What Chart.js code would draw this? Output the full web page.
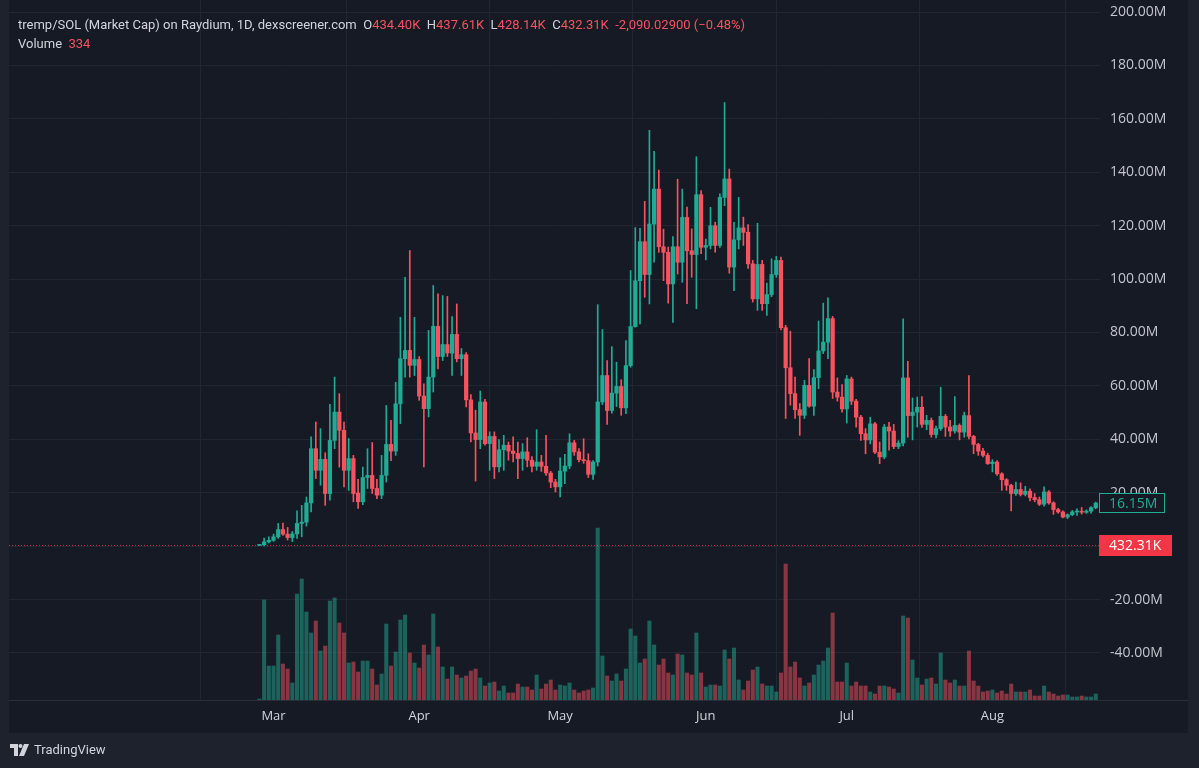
<!DOCTYPE html>
<html>
<head>
<meta charset="utf-8">
<title>tremp/SOL (Market Cap) on Raydium</title>
<script src="https://cdn.jsdelivr.net/npm/chart.js@4.4.1/dist/chart.umd.min.js"></script>
<style>
  html, body { margin: 0; padding: 0; background: #1e222d; }
  #wrap { position: relative; width: 1199px; height: 768px; overflow: hidden; font-family: Roboto, "Open Sans", sans-serif; }
  #chart { position: absolute; left: 0; top: 0; }
  .legend { position: absolute; left: 18px; color: #d1d4dc; font-size: 13px; line-height: 18px; white-space: pre; }
  .legend .v { color: #f7525f; }
  #line1 { top: 16px; }
  #line2 { top: 35px; }
  #brand { position: absolute; left: 10px; top: 741px; color: #d1d4dc; font-size: 13px; line-height: 18px; display: flex; align-items: center; gap: 4px; }
</style>
</head>
<body>
<div id="wrap">
  <canvas id="chart" width="1199" height="768"></canvas>
  <div class="legend" id="line1"></div>
  <div class="legend" id="line2"></div>
  <div id="brand">
    <svg width="20" height="12" viewBox="0 0 20 12">
      <path d="M0 0h8v12h-4v-8h-4z" fill="#d1d4dc"/>
      <circle cx="10.5" cy="2" r="2" fill="#d1d4dc"/>
      <path d="M14 0h5l-5 12h-5z" fill="#d1d4dc"/>
    </svg>
    <span>TradingView</span>
  </div>
</div>

<script>
// --- tremp/SOL market cap, daily candles (values in millions USD) ---

// Day numbers are counted from Mar 1 (Feb 27 = -3)
const firstDay = -3;

// Month ticks on the time axis
const monthLabels = ['Mar', 'Apr', 'May', 'Jun', 'Jul', 'Aug'];
const monthStartDays = [0, 31, 61, 92, 122, 153];

// Price scale ticks (M)
const priceTicks = [-40, -20, 0, 20, 40, 60, 80, 100, 120, 140, 160, 180, 200];

const opens = [
  0.3, 0.5, 1.6,
  2.2, 3.5, 6.2, 4.5, 3.2, 4.6, 8.5, 9.0, 16.2, 36.5, 28.4, 32.5, 19.7, 39.6, 50.2, 43.4, 28.4, 32.8, 19.9, 16.6, 25.7, 26.5, 21.6, 19.1, 26.5, 38.1, 35.6, 53.3, 70.2, 73.3, 67.7,
  69.9, 56.2, 51.5, 63.3, 82.3, 71.0, 75.5, 72.3, 79.3, 70.2, 71.7, 54.8, 42.4, 39.9, 54.0, 38.4, 41.1, 29.7, 36.1, 37.8, 35.6, 34.7, 32.8, 35.3, 32.2, 29.9, 31.5, 29.9, 27.4, 24.0,
  22.2, 28.1, 30.0, 38.7, 35.3, 32.4, 32.0, 26.9, 31.5, 54.0, 63.9, 50.8, 57.3, 59.8, 51.8, 67.6, 82.2, 99.4, 114.0, 101.7, 120.6, 133.7, 112.1, 110.0, 98.2, 112.1, 106.3, 123.1, 110.6, 109.2, 131.6,
  111.9, 112.6, 120.0, 112.6, 130.6, 137.5, 104.5, 114.7, 119.2, 117.5, 105.7, 92.6, 105.5, 90.8, 94.2, 101.7, 107.0, 81.8, 66.8, 57.1, 51.1, 49.0, 60.2, 52.4, 63.1, 73.1, 76.4, 85.2, 57.7, 55.8,
  51.4, 62.6, 54.3, 48.3, 42.1, 39.8, 45.8, 35.2, 33.4, 44.6, 43.1, 37.3, 38.6, 63.0, 48.9, 50.2, 52.0, 45.6, 47.1, 41.8, 44.0, 48.6, 44.6, 43.1, 45.2, 42.7, 48.9, 41.1, 38.1, 35.6, 34.0,
  30.9, 31.5, 27.1, 24.9, 22.8, 19.7, 21.2, 19.4, 20.6, 18.2, 17.4, 15.7, 20.3, 16.2, 13.7, 12.8, 10.9, 11.8, 12.8, 13.1, 12.7, 13.1, 14.4
];
const highs = [
  0.6, 3.0, 3.5,
  4.5, 8.5, 8.6, 7.0, 5.5, 13.2, 15.3, 18.4, 40.9, 46.5, 44.0, 35.0, 53.1, 63.3, 57.1, 46.5, 40.3, 34.0, 25.0, 29.6, 36.5, 38.8, 25.0, 34.0, 52.7, 47.1, 61.4, 85.7, 100.7, 110.7, 85.7,
  71.0, 60.8, 80.8, 97.6, 94.5, 93.8, 93.5, 86.0, 90.7, 74.0, 72.5, 56.8, 50.9, 58.1, 55.0, 42.8, 42.8, 39.9, 41.5, 39.0, 40.9, 39.0, 38.4, 40.6, 33.5, 43.6, 34.0, 41.5, 28.0, 25.0,
  33.1, 34.4, 42.1, 39.6, 36.5, 40.2, 34.6, 32.0, 90.4, 81.1, 69.5, 74.7, 68.9, 62.3, 77.0, 103.2, 119.3, 119.0, 129.1, 155.7, 147.8, 140.8, 118.7, 112.0, 115.9, 137.4, 133.7, 127.0, 118.8, 145.8, 133.1,
  115.0, 126.9, 121.3, 131.9, 166.1, 141.2, 121.3, 130.6, 123.2, 120.4, 107.0, 120.9, 107.0, 98.5, 107.6, 108.5, 108.2, 82.7, 80.5, 63.3, 53.4, 62.1, 70.2, 66.1, 84.3, 91.0, 93.0, 86.0, 63.0, 60.5,
  63.9, 63.3, 55.0, 49.0, 44.0, 48.3, 46.4, 39.0, 45.6, 46.4, 45.6, 39.5, 85.1, 69.2, 55.5, 55.8, 56.0, 49.0, 48.0, 45.0, 59.5, 49.3, 47.1, 56.0, 45.8, 50.2, 63.9, 41.5, 38.5, 36.6, 34.8,
  32.4, 32.0, 27.5, 25.3, 23.2, 24.0, 23.7, 22.4, 21.5, 19.7, 18.4, 22.2, 20.8, 16.6, 14.2, 13.2, 12.1, 13.4, 14.0, 14.5, 13.6, 14.8, 16.5
];
const lows = [
  0.2, 0.1, 1.2,
  1.8, 2.9, 4.0, 2.3, 1.7, 2.9, 3.5, 7.5, 12.8, 25.3, 22.8, 15.3, 17.2, 36.5, 29.6, 22.2, 20.9, 16.6, 14.1, 15.5, 21.6, 19.7, 17.8, 17.8, 24.0, 32.0, 34.0, 45.9, 63.3, 63.3, 63.9,
  54.6, 29.7, 48.4, 57.7, 66.4, 69.5, 71.0, 63.9, 69.0, 63.9, 52.1, 39.0, 24.4, 36.5, 37.8, 28.4, 25.3, 27.8, 28.4, 32.2, 31.5, 25.3, 28.4, 29.7, 27.8, 28.4, 28.0, 26.5, 21.9, 20.3,
  18.4, 23.4, 29.0, 34.0, 31.5, 31.0, 25.7, 25.0, 30.0, 53.0, 45.6, 49.8, 52.3, 49.0, 49.6, 67.0, 82.0, 83.2, 93.2, 90.7, 106.3, 110.0, 99.4, 91.0, 83.8, 101.9, 98.8, 90.8, 100.7, 88.9, 109.5,
  107.2, 111.3, 110.1, 111.9, 127.5, 102.2, 95.7, 111.3, 112.6, 104.0, 91.4, 88.3, 88.3, 86.4, 93.4, 100.7, 81.0, 47.8, 52.8, 47.8, 41.5, 47.8, 52.0, 49.0, 59.0, 72.1, 70.2, 55.3, 54.3, 50.2,
  46.1, 53.0, 44.6, 39.6, 34.6, 38.3, 34.6, 30.9, 32.7, 35.9, 36.5, 36.5, 37.5, 40.8, 39.8, 44.6, 44.5, 43.6, 40.8, 40.5, 43.3, 41.1, 41.1, 42.3, 39.8, 40.8, 40.2, 34.6, 34.0, 33.4, 30.6,
  27.8, 26.5, 20.9, 20.9, 13.2, 19.0, 18.8, 18.8, 16.9, 16.6, 15.2, 15.0, 15.7, 11.9, 12.3, 10.6, 10.3, 11.4, 11.5, 12.0, 12.3, 12.4, 14.0
];
const closes = [
  0.5, 1.6, 2.2,
  3.5, 6.2, 4.5, 3.2, 4.6, 8.5, 9.0, 16.2, 36.5, 28.4, 32.5, 19.7, 39.6, 50.2, 43.4, 28.4, 32.8, 19.7, 16.6, 25.7, 26.5, 21.6, 19.1, 26.5, 38.1, 35.6, 53.3, 70.2, 73.3, 67.7, 69.9,
  56.2, 51.5, 63.3, 82.3, 71.0, 75.5, 72.3, 79.3, 70.2, 71.7, 54.8, 42.4, 39.9, 54.0, 38.4, 41.1, 29.7, 36.1, 37.8, 35.6, 34.7, 32.8, 35.3, 32.2, 29.9, 31.5, 29.9, 27.4, 24.0, 22.2,
  28.1, 30.0, 38.7, 35.3, 32.4, 32.0, 26.9, 31.5, 54.0, 63.9, 50.8, 57.3, 59.8, 51.8, 67.6, 82.2, 99.4, 114.0, 101.7, 120.6, 133.7, 112.1, 110.0, 98.2, 112.1, 106.3, 123.1, 110.6, 109.2, 131.6, 111.9,
  112.6, 120.0, 112.6, 130.6, 137.5, 104.5, 114.7, 119.2, 117.5, 105.7, 92.6, 105.5, 90.8, 94.2, 101.7, 107.0, 81.8, 66.8, 57.1, 51.1, 49.0, 60.2, 52.4, 63.1, 73.1, 76.4, 85.2, 57.7, 55.8, 51.4,
  62.6, 54.3, 48.3, 42.1, 39.8, 45.8, 35.2, 33.4, 44.6, 43.1, 37.3, 38.6, 63.0, 48.9, 50.2, 52.0, 45.6, 47.1, 41.8, 44.0, 48.6, 44.6, 43.1, 45.2, 42.7, 48.9, 41.1, 38.1, 35.6, 34.0, 30.9,
  31.5, 27.1, 24.9, 22.8, 19.7, 21.2, 19.4, 20.6, 18.2, 17.4, 15.7, 20.3, 16.2, 13.7, 12.8, 10.9, 11.8, 12.8, 13.1, 12.7, 13.1, 14.4, 16.15
];
// Volume, relative units
const volumes = [
  1, 100, 34,
  34, 65, 36, 31, 17, 106, 121, 88, 67, 79, 49, 54, 99, 102, 77, 67, 37, 38, 28, 39, 39, 31, 15, 26, 76, 34, 48, 80, 85, 47, 37,
  32, 55, 45, 86, 53, 33, 21, 33, 25, 22, 24, 29, 31, 22, 14, 17, 18, 9, 14, 7, 7, 16, 13, 13, 10, 25, 11, 16, 20, 10,
  15, 14, 17, 10, 7, 9, 10, 12, 172, 44, 24, 19, 26, 19, 31, 71, 64, 37, 41, 79, 55, 35, 41, 27, 25, 46, 45, 27, 25, 67, 27,
  13, 15, 15, 14, 50, 41, 52, 20, 10, 19, 30, 33, 16, 14, 14, 8, 27, 136, 33, 38, 22, 14, 17, 25, 35, 39, 52, 87, 18, 18,
  37, 14, 18, 14, 14, 8, 6, 14, 14, 13, 11, 7, 84, 82, 40, 22, 15, 21, 22, 16, 47, 20, 17, 20, 14, 14, 49, 19, 14, 8, 9,
  10, 7, 9, 6, 16, 8, 8, 8, 10, 4, 4, 14, 8, 6, 4, 5, 5, 3, 3, 4, 3, 3, 6
];

// Legend texts
const pairTitle = 'tremp/SOL (Market Cap) on Raydium, 1D, dexscreener.com';
const lastOpen = '434.40K', lastHigh = '437.61K', lastLow = '428.14K', lastCloseText = '432.31K';
const lastChange = '-2,090.02900 (\u22120.48%)';
const lastVolume = '334';
const lastCloseValue = 0.43231;   // M, red price line
const marketCapValue = 16.15;     // M, green label

// --- Colours ---
const UP = '#22ab94';
const DOWN = '#f7525f';
const UP_VOL = 'rgba(34, 171, 148, 0.5)';
const DOWN_VOL = 'rgba(247, 82, 95, 0.5)';
const BG = '#161a25';
const GRID = '#222632';
const TEXT = '#d1d4dc';
const AXIS_FONT = '"Open Sans", Roboto, sans-serif';

// Visible window
const xMin = -56.3, xMax = 175.9;
const yMin = -57.6, yMax = 204.5;
const volMax = 700;

// --- Legend ---
document.getElementById('line1').innerHTML =
  `${pairTitle}  O<span class="v">${lastOpen}</span>  H<span class="v">${lastHigh}</span>  ` +
  `L<span class="v">${lastLow}</span>  C<span class="v">${lastCloseText}</span>  <span class="v">${lastChange}</span>`;
document.getElementById('line2').innerHTML = `Volume  <span class="v">${lastVolume}</span>`;

// --- Build datasets ---
const isUp = opens.map((o, i) => closes[i] >= o);
const candleColors = isUp.map(u => u ? UP : DOWN);
const volColors = isUp.map(u => u ? UP_VOL : DOWN_VOL);

const wickData = highs.map((h, i) => ({ x: firstDay + i, y: [lows[i], h] }));
const bodyData = opens.map((o, i) => ({ x: firstDay + i, y: [o, closes[i]] }));
const volData = volumes.map((v, i) => ({ x: firstDay + i, y: v }));

// --- Panel decoration: background, price line, labels ---
const tvDecor = {
  id: 'tvDecor',
  beforeDraw(chart) {
    const ctx = chart.ctx;
    ctx.save();
    ctx.fillStyle = '#1e222d';
    ctx.fillRect(0, 0, chart.width, chart.height);
    ctx.fillStyle = BG;
    ctx.fillRect(9, 0, 1179, 733);
    ctx.strokeStyle = '#2a2e39';
    ctx.lineWidth = 1;
    ctx.beginPath();
    ctx.moveTo(9, chart.chartArea.bottom + 0.5);
    ctx.lineTo(1188, chart.chartArea.bottom + 0.5);
    ctx.stroke();
    ctx.restore();
  },
  beforeDatasetsDraw(chart) {
    const ctx = chart.ctx;
    const y = Math.round(chart.scales.y.getPixelForValue(lastCloseValue)) + 0.5;
    ctx.save();
    ctx.strokeStyle = 'rgba(242, 54, 69, 0.8)';
    ctx.setLineDash([1, 2]);
    ctx.lineWidth = 1;
    ctx.beginPath();
    ctx.moveTo(chart.chartArea.left, y);
    ctx.lineTo(chart.chartArea.right, y);
    ctx.stroke();
    ctx.restore();
  },
  afterDraw(chart) {
    const ctx = chart.ctx;
    const left = chart.chartArea.right - 1;
    ctx.save();
    ctx.font = '14px ' + AXIS_FONT;
    ctx.textBaseline = 'middle';

    // green market cap box
    const yCap = Math.round(chart.scales.y.getPixelForValue(marketCapValue));
    ctx.fillStyle = BG;
    ctx.fillRect(left, yCap - 10, 66, 20);
    ctx.strokeStyle = UP;
    ctx.strokeRect(left + 0.5, yCap - 9.5, 65, 19);
    ctx.fillStyle = UP;
    ctx.fillText(marketCapValue.toFixed(2) + 'M', left + 10, yCap + 1);

    // red last price box
    const yLast = Math.round(chart.scales.y.getPixelForValue(lastCloseValue));
    ctx.fillStyle = '#f23645';
    ctx.fillRect(left, yLast - 10, 73, 21);
    ctx.fillStyle = '#ffffff';
    ctx.fillText(lastCloseText, left + 10, yLast + 1);
    ctx.restore();
  }
};

// --- Chart ---
new Chart(document.getElementById('chart'), {
  type: 'bar',
  data: {
    datasets: [
      {
        label: 'Body',
        data: bodyData,
        backgroundColor: candleColors,
        barThickness: 3.6,
        minBarLength: 1,
        grouped: false,
        order: 1
      },
      {
        label: 'Wick',
        data: wickData,
        backgroundColor: candleColors,
        barThickness: 1,
        grouped: false,
        order: 2
      },
      {
        label: 'Volume',
        data: volData,
        yAxisID: 'vol',
        backgroundColor: volColors,
        barThickness: 3.4,
        grouped: false,
        order: 3
      }
    ]
  },
  options: {
    responsive: false,
    animation: false,
    layout: { padding: { left: 9, right: 11, top: 0, bottom: 35 } },
    plugins: {
      legend: { display: false },
      tooltip: { enabled: false }
    },
    scales: {
      x: {
        type: 'linear',
        offset: false,
        min: xMin,
        max: xMax,
        afterBuildTicks: axis => { axis.ticks = monthStartDays.map(v => ({ value: v })); },
        afterFit: axis => { axis.height = 33; axis.paddingLeft = 0; axis.paddingRight = 0; },
        grid: { color: GRID, drawTicks: false },
        border: { display: false },
        ticks: {
          color: TEXT,
          font: { family: AXIS_FONT, size: 13 },
          padding: 8,
          maxRotation: 0,
          callback: (v, i) => monthLabels[i]
        }
      },
      y: {
        position: 'right',
        min: yMin,
        max: yMax,
        afterBuildTicks: axis => { axis.ticks = priceTicks.map(v => ({ value: v })); },
        afterFit: axis => { axis.width = 88; axis.paddingTop = 0; axis.paddingBottom = 0; },
        grid: { color: GRID, drawTicks: false },
        border: { display: false },
        ticks: {
          color: '#c3c6ce',
          font: { family: AXIS_FONT, size: 14 },
          padding: 10,
          callback: v => v.toFixed(2) + 'M'
        }
      },
      vol: {
        display: false,
        min: 0,
        max: volMax,
        afterFit: axis => { axis.paddingTop = 0; axis.paddingBottom = 0; }
      }
    }
  },
  plugins: [tvDecor]
});
</script>
</body>
</html>
